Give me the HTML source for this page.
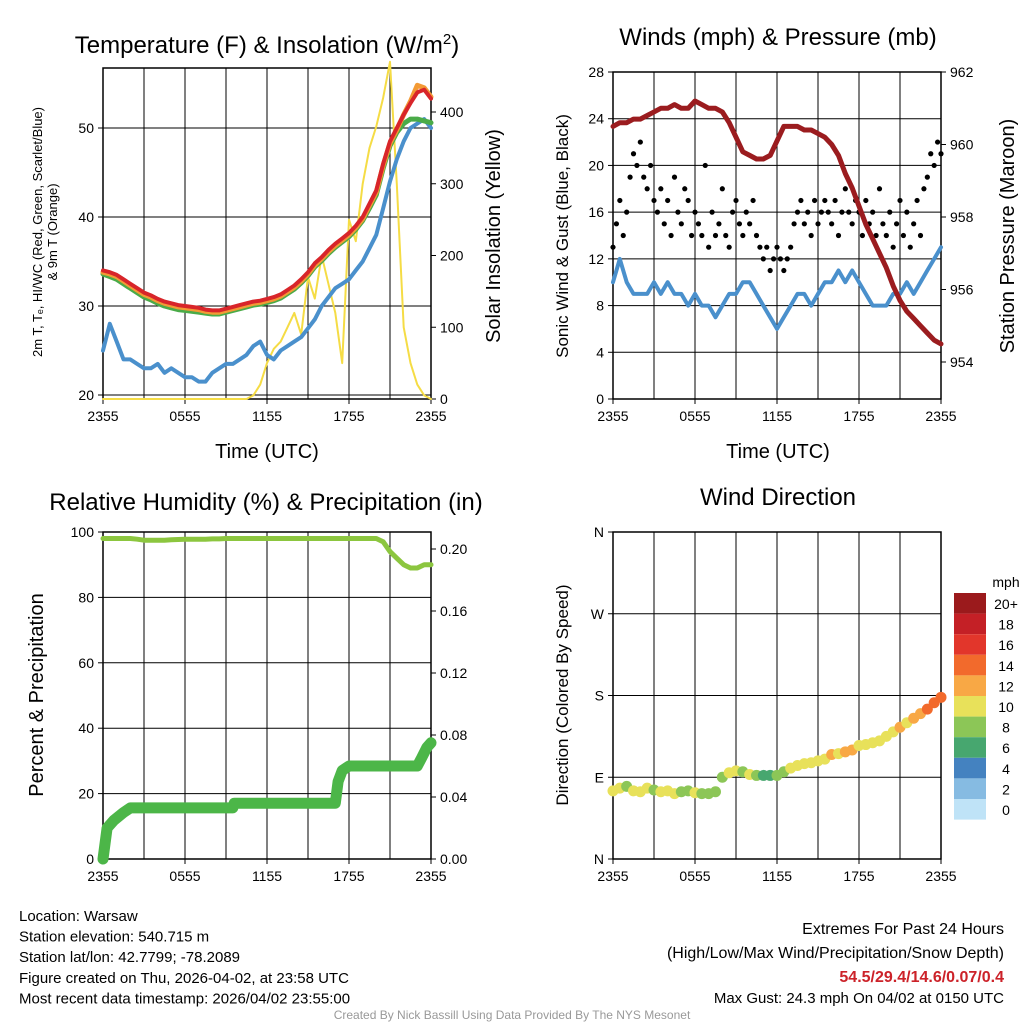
<!DOCTYPE html>
<html><head><meta charset="utf-8"><style>
body{margin:0;background:#fff}
svg{display:block;font-family:"Liberation Sans",sans-serif}
</style></head><body>
<svg id="s" width="1024" height="1024" xmlns="http://www.w3.org/2000/svg"></svg>
<script>
// ---- data (half-hourly, t = 0..24 h) ----
const xLabels=["2355","0555","1155","1755","2355"];
const tempRed=[34,33.8,33.5,33,32.5,32,31.5,31.2,30.8,30.5,30.3,30.1,30,29.9,29.8,29.6,29.5,29.5,29.7,29.9,30.1,30.3,30.5,30.6,30.8,31,31.3,31.8,32.3,33,33.8,34.8,35.5,36.3,37,37.6,38.2,39,40,41.5,43,46,48.5,50,51.5,52.8,54,54.3,53.3];
const tempGreen=[33.6,33.3,33,32.5,32,31.5,31,30.7,30.3,30,29.8,29.6,29.5,29.4,29.3,29.2,29.1,29.1,29.3,29.5,29.7,29.9,30.1,30.2,30.4,30.6,30.9,31.4,31.9,32.6,33.4,34.4,35.1,35.9,36.6,37.2,37.8,38.6,39.6,41,42.5,45.5,48,49.5,50.5,51,51,50.8,50.6];
const tempOrange=[33.8,33.6,33.3,32.8,32.3,31.8,31.3,31,30.6,30.3,30.1,29.9,29.8,29.7,29.6,29.4,29.3,29.3,29.5,29.7,29.9,30.1,30.3,30.4,30.6,30.8,31.1,31.6,32.1,32.8,33.6,34.6,35.3,36.1,36.8,37.4,38,38.8,39.8,41.3,42.8,45.8,48.3,49.8,51.5,53,54.8,54.5,53.5];
const dewpoint=[25,28,26,24,24,23.5,23,23,23.5,22.5,23,22.5,22,22,21.5,21.5,22.5,23,23.5,23.5,24,24.5,25.5,26,24.5,24,25,25.5,26,26.5,27.5,28.5,30,31,32,32.5,33,34,35,36.5,38,41,44,46.5,48.5,50,50.5,51,50];
const solar=[0,0,0,0,0,0,0,0,0,0,0,0,0,0,0,0,0,0,0,0,0,0,5,20,50,70,80,100,120,90,170,140,200,160,120,50,250,220,300,350,380,420,470,300,100,50,20,5,0];
const windSonic=[10,12,10,9,9,9,10,9,10,9,9,8,9,8,8,7,8,9,9,10,10,9,8,7,6,7,8,9,9,8,9,10,10,11,10,11,10,9,8,8,8,9,9,10,9,10,11,12,13];
const pressure=[960.5,960.6,960.6,960.7,960.7,960.8,960.9,961.0,961.0,961.1,961.0,961.0,961.2,961.1,961.0,961.0,960.9,960.6,960.2,959.8,959.7,959.6,959.6,959.7,960.1,960.5,960.5,960.5,960.4,960.4,960.3,960.2,960.0,959.7,959.2,958.8,958.3,957.8,957.4,957.0,956.6,956.1,955.7,955.4,955.2,955.0,954.8,954.6,954.5];
// gusts every 0.25 h
const gust=[13,15,17,14,16,19,21,20,22,19,18,20,17,16,18,15,17,14,19,16,15,18,17,14,16,15,14,20,13,16,14,15,18,14,13,16,17,15,14,16,15,17,14,13,12,13,11,12,13,12,11,12,13,15,16,17,15,16,14,17,15,16,17,16,15,17,14,16,18,16,15,17,16,14,17,15,16,14,18,15,14,16,13,15,17,14,16,13,15,17,14,18,19,21,20,22,21];
const rh=[98,98,98,98,98,97.8,97.5,97.5,97.5,97.5,97.6,97.7,97.8,97.8,97.8,97.8,97.9,97.9,98,98,98,98,98,98,98,98,98,98,98,98,98,98,98,98,98,98,98,98,98,98,98,97,94,92,90,89,89,90,90];
const precipT=[0,0.3,0.8,1.5,2,9.5,9.6,17,17.2,17.5,18,23,23.3,23.7,24];
const precipV=[0,0.02,0.025,0.03,0.033,0.033,0.036,0.036,0.05,0.057,0.06,0.06,0.065,0.072,0.075];
const windDir=[75,78,80,75,74,78,76,74,75,72,74,75,73,72,72,74,90,95,97,96,93,92,92,92,92,96,100,103,105,106,108,110,115,116,118,120,125,126,128,130,135,140,145,150,155,160,165,172,178];
const windSpd=[9,10,8,9,9,10,8,9,10,9,8,8,9,8,7,7,8,9,10,8,9,7,6,6,7,8,9,9,9,10,10,10,11,10,11,12,10,9,10,10,9,10,11,10,11,12,13,14,14];
const cbLabels=["20+","18","16","14","12","10","8","6","4","2","0"];
const cbColors=["#9b1a1c","#c42026","#e2362b","#f26a2c","#f8a845","#e8e15a","#8cc657","#47a76f","#4482c0","#86bbe2","#bfe3f7"];

const S=document.getElementById('s');
const NS="http://www.w3.org/2000/svg";
function el(tag,at,txt){const e=document.createElementNS(NS,tag);for(const k in at)e.setAttribute(k,at[k]);if(txt!==undefined)e.textContent=txt;S.appendChild(e);return e;}
function xs(x0,x1){return t=>x0+t*(x1-x0)/24;}
function lin(v0,y0,v1,y1){return v=>y0+(v-v0)*(y1-y0)/(v1-v0);}
function poly(arr,X,Y,step,col,w,name){let d=arr.map((v,i)=>(i?'L':'M')+X(i*step).toFixed(1)+','+Y(v).toFixed(1)).join('');
 const p=el('path',{d:d,fill:'none',stroke:col,'stroke-width':w,'stroke-linejoin':'round','stroke-linecap':'round'});
 
 return p;}
function frame(x0,y0,x1,y1,name){
 for(let i=1;i<8;i++){const x=x0+i*(x1-x0)/8;el('line',{x1:x,y1:y0,x2:x,y2:y1,stroke:'#000','stroke-width':1});}
 const r=el('rect',{x:x0,y:y0,width:x1-x0,height:y1-y0,fill:'none',stroke:'#000','stroke-width':1.5});
 
 
 xLabels.forEach((l,i)=>{const x=x0+i*(x1-x0)/4;el('line',{x1:x,y1:y1,x2:x,y2:y1+5,stroke:'#000'});
  const t=el('text',{x:x,y:y1+22,'font-size':14,'text-anchor':'middle'},l);
  
  });
}
function hgrid(x0,x1,y){el('line',{x1:x0,y1:y,x2:x1,y2:y,stroke:'#000','stroke-width':1});}
function ytick(x,y,lab,side){el('line',{x1:x,y1:y,x2:x+(side<0?-5:5),y2:y,stroke:'#000'});
 const t=el('text',{x:x+(side<0?-9:9),y:y+5,'font-size':14,'text-anchor':side<0?'end':'start'},lab);
 
 }
function title(x,y,txt,size,name){const t=el('text',{x:x,y:y,'font-size':size,'text-anchor':'middle'},txt);
 
 return t;}
function vtitle(x,y,txt,size,name){const t=el('text',{x:x,y:y,'font-size':size,'text-anchor':'middle',transform:`rotate(-90 ${x} ${y})`},txt);
 
 return t;}

// ---- Panel 1 ----
{const x0=103,x1=431,y0=68,y1=399;const X=xs(x0,x1);
 const Y=lin(20,395,50,128);const Ys=lin(0,399,400,112);
 [20,30,40,50].forEach(v=>{hgrid(x0,x1,Y(v));ytick(x0,Y(v),v,-1);});
 [0,100,200,300,400].forEach(v=>ytick(x1,Ys(v),v,1));
 frame(x0,y0,x1,y1,'temperature-plot-frame');
 poly(solar,X,Ys,0.5,'#f5dc45',2,'solar-insolation-line');
 poly(dewpoint,X,Y,0.5,'#4a90cc',4,'dewpoint-line');
 poly(tempGreen,X,Y,0.5,'#4aab48',5,'heat-index-line');
 poly(tempOrange,X,Y,0.5,'#f39a35',5,'temperature-9m-line');
 poly(tempRed,X,Y,0.5,'#d8252a',4,'temperature-2m-line');
 const t=title(267,53,'Temperature (F) & Insolation (W/m',24,'temperature-title');
 const sp=document.createElementNS(NS,'tspan');sp.setAttribute('dy','-9');sp.setAttribute('font-size','15');sp.textContent='2';t.appendChild(sp);
 const sp2=document.createElementNS(NS,'tspan');sp2.setAttribute('dy','9');sp2.textContent=')';t.appendChild(sp2);
 title(267,458,'Time (UTC)',20,'x-axis-title');
 vtitle(42,232,'2m T, T\u2091, HI/WC (Red, Green, Scarlet/Blue)',13,'temperature-y-title');
 vtitle(57,232,'& 9m T (Orange)',13,'temperature-y-title-2');
 vtitle(500,236,'Solar Insolation (Yellow)',20,'solar-y-title');
}
// ---- Panel 2 ----
{const x0=613,x1=941,y0=72,y1=399;const X=xs(x0,x1);
 const Y=lin(0,399,28,72);const Yp=lin(954,362,962,72);
 [4,8,12,16,20,24].forEach(v=>hgrid(x0,x1,Y(v)));
 [0,4,8,12,16,20,24,28].forEach(v=>ytick(x0,Y(v),v,-1));
 [954,956,958,960,962].forEach(v=>ytick(x1,Yp(v),v,1));
 frame(x0,y0,x1,y1,'wind-plot-frame');
 poly(windSonic,X,Y,0.5,'#4a90cc',4,'sonic-wind-line');
 gust.forEach((v,i)=>{const c=el('circle',{cx:X(i*0.25),cy:Y(v),r:2.6,fill:'#000'});
  
  });
 poly(pressure,X,Yp,0.5,'#9b1c1f',5,'pressure-line');
 title(778,45,'Winds (mph) & Pressure (mb)',24,'wind-title');
 title(778,458,'Time (UTC)',20,'x-axis-title-2');
 vtitle(568,236,'Sonic Wind & Gust (Blue, Black)',17,'wind-y-title');
 vtitle(1014,236,'Station Pressure (Maroon)',20,'pressure-y-title');
}
// ---- Panel 3 ----
{const x0=103,x1=431,y0=532,y1=859;const X=xs(x0,x1);
 const Y=lin(0,859,100,532);const Yp=lin(0,859,0.04,797);
 [20,40,60,80,100].forEach(v=>hgrid(x0,x1,Y(v)));
 [0,20,40,60,80,100].forEach(v=>ytick(x0,Y(v),v,-1));
 [0,0.04,0.08,0.12,0.16,0.20].forEach(v=>ytick(x1,Yp(v),v.toFixed(2),1));
 frame(x0,y0,x1,y1,'humidity-plot-frame');
 poly(rh,X,Y,0.5,'#8cc63f',5,'relative-humidity-line');
 const d=precipT.map((t,i)=>(i?'L':'M')+X(t).toFixed(1)+','+Yp(precipV[i]).toFixed(1)).join('');
 const p=el('path',{d:d,fill:'none',stroke:'#4cb648','stroke-width':11,'stroke-linejoin':'round','stroke-linecap':'round'});
 
 
 title(266,510,'Relative Humidity (%) & Precipitation (in)',24,'humidity-title');
 vtitle(43,695,'Percent & Precipitation',20,'humidity-y-title');
}
// ---- Panel 4 ----
{const x0=613,x1=941,y0=532,y1=859;const X=xs(x0,x1);
 const Y=lin(0,859,360,532);
 [90,180,270].forEach(v=>hgrid(x0,x1,Y(v)));
 const dl=["N","E","S","W","N"];
 dl.forEach((l,i)=>ytick(x0,Y(i*90),l,-1));
 frame(x0,y0,x1,y1,'wind-direction-plot-frame');
 function col(s){let k=Math.round(s/2);if(k>10)k=10;return cbColors[10-k];}
 windDir.forEach((v,i)=>{const c=el('circle',{cx:X(i*0.5),cy:Y(v),r:5.5,fill:col(windSpd[i])});
  
  });
 title(778,505,'Wind Direction',24,'wind-direction-title');
 vtitle(568,695,'Direction (Colored By Speed)',17,'wind-direction-y-title');
 const cb=el('text',{x:1006,y:587,'font-size':14,'text-anchor':'middle'},'mph');
 
 
 cbLabels.forEach((l,i)=>{const y=593+i*20.6;
  const r=el('rect',{x:954,y:y,width:32,height:20.6,fill:cbColors[i]});
  
  
  const t=el('text',{x:1006,y:y+16,'font-size':14,'text-anchor':'middle'},l);
  
  });
}
// ---- footer ----
const leftLines=["Location: Warsaw","Station elevation: 540.715 m","Station lat/lon: 42.7799; -78.2089","Figure created on Thu, 2026-04-02, at 23:58 UTC","Most recent data timestamp: 2026/04/02 23:55:00"];
leftLines.forEach((l,i)=>{const t=el('text',{x:19,y:921+i*20.6,'font-size':15},l);
 
 });
const r1=el('text',{x:1004,y:934,'font-size':16,'text-anchor':'end'},'Extremes For Past 24 Hours');


const r2=el('text',{x:1004,y:958,'font-size':16,'text-anchor':'end'},'(High/Low/Max Wind/Precipitation/Snow Depth)');


const r3=el('text',{x:1004,y:982,'font-size':16,'text-anchor':'end','font-weight':'bold',fill:'#cc2229'},'54.5/29.4/14.6/0.07/0.4');


const r4=el('text',{x:1004,y:1003,'font-size':15,'text-anchor':'end'},'Max Gust: 24.3 mph On 04/02 at 0150 UTC');


const cr=el('text',{x:512,y:1019,'font-size':12,'text-anchor':'middle',fill:'#999'},'Created By Nick Bassill Using Data Provided By The NYS Mesonet');


</script>
</body></html>
